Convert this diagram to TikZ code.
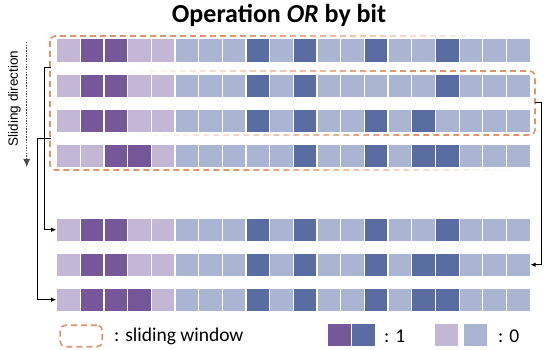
\documentclass[tikz,border=0pt]{standalone}
\usepackage{fontspec}
\setmainfont{Carlito}
\setsansfont{Liberation Sans}
\usetikzlibrary{arrows.meta,positioning}
\definecolor{BitOnPurple}{HTML}{76589A}
\definecolor{BitOnBlue}{HTML}{5A6DA3}
\definecolor{BitOffPurple}{HTML}{C4B6D5}
\definecolor{BitOffBlue}{HTML}{A9B5D3}
\definecolor{WindowLine}{HTML}{E0946A}

\begin{document}
\begin{tikzpicture}[x=1pt,y=-1pt,>=Latex]
        \tikzset{
          bitcell/.style={
            draw=white,
            line width=1.1pt,
            minimum width=23.67pt,
            minimum height=23.4pt,
            inner sep=0pt
          },
          window/.style={
            draw=WindowLine,
            line width=1.6pt,
            dash pattern=on 6pt off 4pt,
            rounded corners=5pt
          },
          link/.style={
            ->,
            line width=0.8pt,
            >={Latex[length=5pt,width=4.5pt]}
          },
          keytext/.style={
            anchor=west,
            inner sep=0pt,
            font=\fontsize{19.5}{22}\selectfont
          }
        }
        \useasboundingbox (0,0) rectangle (550,350);
        % title
        \node[anchor=base,font=\bfseries\fontsize{26}{30}\selectfont] (title) at (279,22.7) {Operation \textit{OR} by bit};
        % bit rows
        \foreach \r/\yy in {1/50.5,2/85.8,3/121,4/156,5/229.7,6/264.7,7/299.7} {
          \foreach \k in {0,...,19} {
            \ifnum\k<5 \def\tone{BitOffPurple}\else\def\tone{BitOffBlue}\fi
            \node[bitcell,fill=\tone] (c\r-\k) at (68.5+23.67*\k,\yy) {};
          }
        }
        \foreach \r/\k in {1/1,1/2,1/8,1/10,1/13,1/16,
                           2/1,2/2,2/8,2/10,2/16,
                           3/1,3/2,3/8,3/10,3/13,3/15,
                           4/2,4/3,4/10,4/13,4/15,4/16,
                           5/1,5/2,5/8,5/10,5/13,5/16,
                           6/1,6/2,6/8,6/10,6/13,6/15,6/16,
                           7/1,7/2,7/3,7/8,7/10,7/13,7/15,7/16} {
          \ifnum\k<5 \def\tone{BitOnPurple}\else\def\tone{BitOnBlue}\fi
          \node[bitcell,fill=\tone] at (c\r-\k) {};
        }
        % sliding windows, fading out
        \coordinate (winAnw) at (50,36);
        \coordinate (winAse) at (535,170);
        \coordinate (winBnw) at (50,71);
        \coordinate (winBse) at (535,135);
        \foreach \x in {30,50,...,550} {
          \pgfmathsetmacro\fadeA{max(0,min(1,(500-\x)/280))}
          \pgfmathsetmacro\fadeB{max(0,min(1,(\x-120)/280))}
          \begin{scope}
            \clip (\x,20) rectangle ++(20,170);
            \draw[window,draw opacity=\fadeA] (winAnw) rectangle (winAse);
            \draw[window,draw opacity=\fadeB] (winBnw) rectangle (winBse);
          \end{scope}
        }
        % sliding direction
        \node[inner sep=0pt,font=\sffamily\fontsize{13.5}{16}\selectfont] (slide) at (14.5,98.5) {\rotatebox{90}{Sliding direction}};
        \coordinate (slidetop) at (26.7,42);
        \coordinate (slidebot) at (26.7,167);
        \draw[->,line width=0.8pt,draw=black!70,dash pattern=on 1.5pt off 1.2pt,>={Latex[length=8pt,width=7pt]}] (slidetop) -- (slidebot);
        % results
        \coordinate (tapA) at (51,67);
        \coordinate (tapB) at (51,138);
        \coordinate (tapC) at (535,102);
        \draw[link] (tapA) -- ++(-7,0) |- (c5-0.west);
        \draw[link] (tapB) -- ++(-13.5,0) |- (c7-0.west);
        \draw[link] (tapC) -- ++(6.5,0) |- (c6-19.east);
        % legend
        \node[window,minimum width=42pt,minimum height=21.5pt] (keywin) at (81.2,336) {};
        \node[keytext] (keywintext) at (114,336) {: sliding window};
        \node[bitcell,fill=BitOnPurple] (keyonp) at (339.7,335) {};
        \node[bitcell,fill=BitOnBlue,right=-1.1pt of keyonp] (keyonb) {};
        \node[keytext] (keyontext) at (384,336) {: 1};
        \node[bitcell,fill=BitOffPurple] (keyoffp) at (446.3,335) {};
        \node[bitcell,fill=BitOffBlue,right=4.6pt of keyoffp] (keyoffb) {};
        \node[keytext] (keyofftext) at (498,336) {: 0};
      \end{tikzpicture}
\end{document}
